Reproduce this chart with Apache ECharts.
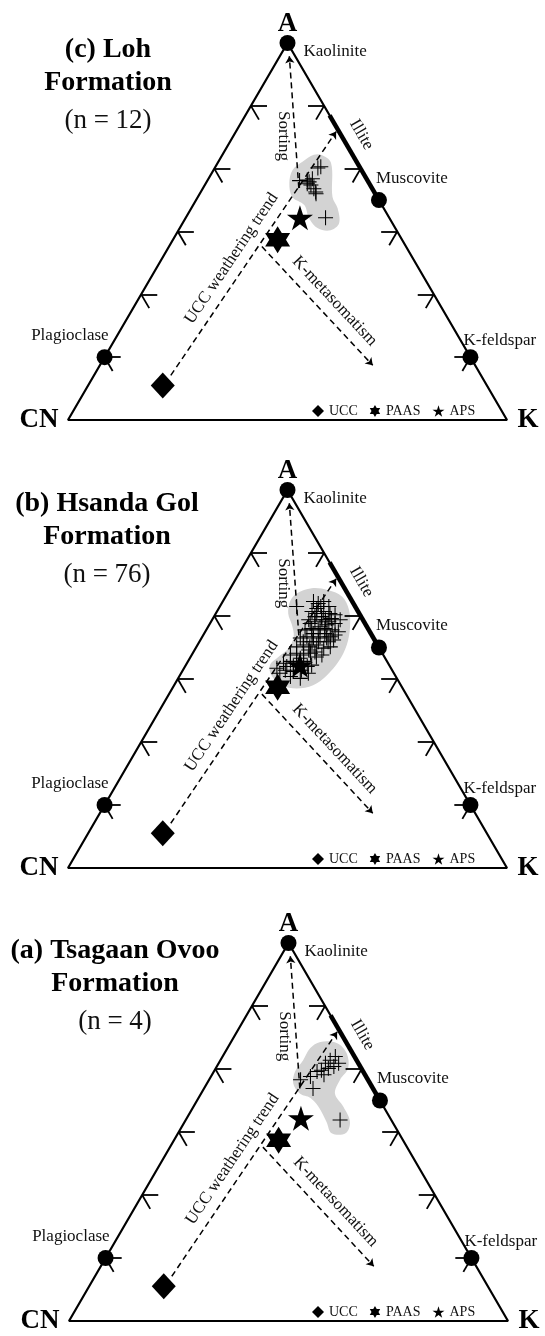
<!DOCTYPE html>
<html>
<head>
<meta charset="utf-8">
<script src="https://cdn.jsdelivr.net/npm/echarts@6/dist/echarts.min.js"></script>
<style>
html, body { margin: 0; padding: 0; background: #fff; }
#chart { width: 545px; height: 1336px; }
</style>
</head>
<body>
<div id="chart"></div>
<script>
// A-CN-K ternary, only the part with A >= 40 is drawn.
// every point is [A, K], CN = 100 - A - K
var titles = ['(c) Loh\nFormation', '(b) Hsanda Gol\nFormation', '(a) Tsagaan Ovoo\nFormation'];
var counts = ['(n = 12)', '(n = 76)', '(n = 4)'];

var ucc = [[45.5, 10.2]];
var paas = [[68.7, 14.3]];
var aps = [[72.2, 15.6]];

var minerals = ['Kaolinite', 'Muscovite', 'Plagioclase', 'K-feldspar'];
var mineralPts = [[100, 0], [75, 25], [50, 0], [50, 50]];
var illite = [[88.5, 11.5], [75, 25]];
var tickA = [50, 60, 70, 80, 90];

var corners = ['A', 'CN', 'K'];
var cornerPts = [[100, 0], [40, 0], [40, 60]];

var trendNames = ['Sorting', 'Illite', 'UCC weathering trend', 'K-metasomatism'];
var trendLabelPts = [[85.2, 6.8], [85.4, 17.4], [65.7, 9.5], [58.9, 27.0]];
var sortingArrow = [[76.9, 13.1], [97.9, 1.3]];
var weatheringArrow = [[47.1, 10.5], [85.9, 13.7]];
var metasomArrow = [[67.6, 12.7], [48.7, 37.3]];

var lohPts = [[80.1, 14.1], [78.2, 13.6], [77.4, 14.5], [76.3, 15.7], [72.2, 19.1], [78.1, 12.6],
  [77.9, 14.0], [76.8, 15.2], [80.3, 14.4], [77.6, 13.9], [76.0, 15.9], [78.4, 14.2]];
var lohCloud = [[82.2, 13.5], [80.9, 15.5], [75.5, 18.4], [73.7, 20.0], [71.3, 21.4], [70.2, 20.8], [70.5, 18.9],
  [72.1, 16.9], [74.2, 15.2], [75.5, 12.9], [77.7, 11.4], [79.8, 10.8], [81.1, 11.5], [82.2, 12.5]];

var hsandaPts = [
  [82.3, 12.4], [82.0, 13.2], [82.3, 13.8], [81.5, 13.8], [81.5, 14.9],
  [80.7, 13.0], [80.4, 13.8], [80.7, 14.6], [80.4, 15.6], [80.2, 16.4],
  [79.4, 13.2], [79.1, 14.2], [79.4, 15.0], [79.1, 16.1], [78.8, 17.1], [79.4, 17.5],
  [77.8, 13.5], [78.0, 14.3], [77.8, 15.3], [78.0, 16.1], [77.8, 17.2], [77.5, 18.2],
  [76.5, 13.5], [76.7, 14.3], [76.5, 15.3], [76.7, 16.1], [76.5, 17.1], [76.2, 18.2],
  [75.1, 13.7], [75.4, 14.5], [75.1, 15.5], [75.4, 16.3], [74.9, 17.5], [75.1, 18.3],
  [73.8, 13.5], [74.1, 14.2], [73.8, 15.3], [74.1, 16.1], [73.5, 17.2],
  [72.5, 13.2], [72.8, 14.0], [72.5, 15.0], [72.8, 15.8], [72.2, 17.2],
  [71.7, 12.7], [71.4, 14.0], [71.2, 15.2], [71.4, 16.2], [70.9, 17.4],
  [70.1, 16.7], [70.4, 15.2], [81.5, 10.5],
  [81.2, 13.4], [79.9, 14.7], [78.6, 16.1], [77.2, 14.9], [75.9, 16.3], [74.6, 15.6],
  [73.3, 15.1], [72.0, 14.8], [78.3, 15.3], [77.2, 16.5], [79.9, 13.8], [79.6, 16.2],
  [78.8, 13.7], [75.9, 14.2], [75.9, 17.6], [72.0, 13.9], [72.0, 16.7], [70.9, 13.5],
  [77.0, 18.0], [73.8, 17.8], [74.3, 16.6], [75.9, 15.4], [79.4, 15.5], [76.7, 17.5]];
var hsandaCloud = [[83.6, 9.5], [84.4, 11.1], [84.1, 13.5], [83.1, 15.9], [81.0, 17.9], [78.3, 19.4],
  [75.4, 20.4], [72.8, 20.6], [70.6, 20.1], [69.0, 19.0], [68.5, 17.0], [69.0, 14.7], [70.6, 12.5],
  [72.2, 11.5], [73.5, 12.0], [74.9, 12.7], [76.7, 12.5], [78.6, 11.3], [80.4, 9.9], [82.3, 9.2]];

var tsagaanPts = [[82.0, 15.4], [81.4, 15.0], [80.9, 16.4], [80.9, 14.6], [80.4, 16.0], [80.1, 15.4],
  [79.8, 14.6], [79.6, 14.1], [79.1, 15.3], [78.8, 13.6], [78.3, 12.5], [76.9, 14.9], [71.9, 21.1]];
var tsagaanCloud = [[84.3, 12.2], [84.1, 14.6], [82.5, 16.7], [80.1, 18.1], [78.3, 17.9], [76.1, 18.3],
  [74.0, 20.5], [71.6, 22.6], [69.8, 22.9], [69.8, 21.0], [71.6, 19.4], [74.0, 17.1], [75.4, 15.3],
  [76.1, 13.5], [77.7, 11.8], [79.6, 11.1], [81.4, 11.3], [83.3, 11.3]];

var panelPts = [lohPts, hsandaPts, tsagaanPts];
var panelClouds = [lohCloud, hsandaCloud, tsagaanCloud];

var serif = "'Liberation Serif', 'Times New Roman', serif";
var crossIcon = 'path://M9.3,0h1.4v20h-1.4z M0,9.3h20v1.4h-20z';
var hexIcon = 'path://M0,-10L2.887,-5L8.66,-5L5.774,0L8.66,5L2.887,5L0,10L-2.887,5L-8.66,5L-5.774,0L-8.66,-5L-2.887,-5Z';
var starIcon = 'path://M0,-10L2.245,-3.09L9.511,-3.09L3.633,1.18L5.878,8.09L0,3.82L-5.878,8.09L-3.633,1.18L-9.511,-3.09L-2.245,-3.09Z';

// [A, K] -> [x, A] on an axis pair where x runs 0..1 along the base
function tern(p) {
  return [p[1] / 60 + (p[0] - 40) / 120, p[0]];
}

function tickSegments() {
  var d = 2.2, segs = [];
  tickA.forEach(function (a) {
    segs.push({ coords: [tern([a, 0]), tern([a, d])] });
    segs.push({ coords: [tern([a, 0]), tern([a - d, d])] });
    segs.push({ coords: [tern([a, 100 - a]), tern([a, 100 - a - d])] });
    segs.push({ coords: [tern([a, 100 - a]), tern([a - d, 100 - a])] });
  });
  return segs;
}

var grids = [
  { left: 68, top: 43, width: 439, height: 377 },
  { left: 68, top: 490, width: 439, height: 378 },
  { left: 69, top: 943, width: 439, height: 378 }
];
var titleTops = [33, 487, 934];
var titleCenters = [108, 107, 115];
var legendTops = [404, 852, 1305];

var mineralLabel = [
  { position: 'right', distance: 8, offset: [0, 9] },
  { position: 'top', distance: 5, align: 'left', offset: [-3, 0] },
  { position: 'top', distance: 5, align: 'right', offset: [4, 0] },
  { position: 'top', distance: 0, align: 'left', offset: [-7, 0] }
];
var cornerLabel = [
  { position: 'top', distance: 5 },
  { position: 'left', distance: 9 },
  { position: 'right', distance: 10 }
];
var trendRotate = [-90, -60, 56, -47];
var ink = '#111';

var series = [];
[0, 1, 2].forEach(function (i) {
  var ax = { xAxisIndex: i, yAxisIndex: i };
  function s(o) { return Object.assign({}, ax, { clip: false, silent: true, animation: false }, o); }

  var cloud = panelClouds[i];
  series.push(s({
    type: 'custom', z: 1, data: [[0.5, 70]],
    renderItem: function (params, api) {
      return {
        type: 'polygon',
        shape: { points: cloud.map(function (p) { return api.coord(tern(p)); }), smooth: 0.35 },
        style: { fill: '#d3d3d3' }
      };
    }
  }));

  series.push(s({
    type: 'lines', coordinateSystem: 'cartesian2d', z: 2,
    symbol: ['none', 'arrow'], symbolSize: 7,
    lineStyle: { color: '#000', width: 1.5, type: [6, 4], opacity: 1 },
    data: [sortingArrow, weatheringArrow, metasomArrow].map(function (a) {
      return { coords: a.map(tern) };
    })
  }));

  series.push(s({
    type: 'line', z: 3, showSymbol: false,
    lineStyle: { color: '#000', width: 2.2 },
    data: [cornerPts[0], cornerPts[1], cornerPts[2], cornerPts[0]].map(tern)
  }));

  series.push(s({
    type: 'lines', coordinateSystem: 'cartesian2d', z: 3,
    lineStyle: { color: '#000', width: 1.8, opacity: 1 },
    data: tickSegments()
  }));

  series.push(s({
    type: 'lines', coordinateSystem: 'cartesian2d', z: 3,
    lineStyle: { color: '#000', width: 4.5, opacity: 1 },
    data: [{ coords: illite.map(tern) }]
  }));

  series.push(s({
    type: 'scatter', z: 4, symbol: crossIcon, symbolSize: 15,
    itemStyle: { color: '#000', opacity: 1 },
    data: panelPts[i].map(tern)
  }));

  series.push(s({
    type: 'scatter', z: 5, symbol: 'circle', symbolSize: 16,
    itemStyle: { color: '#000', opacity: 1 },
    data: mineralPts.map(function (p, k) {
      return {
        value: tern(p),
        label: Object.assign({
          show: true, formatter: minerals[k], color: ink,
          fontFamily: serif, fontSize: 17
        }, mineralLabel[k])
      };
    })
  }));

  series.push(s({
    name: 'UCC', type: 'scatter', z: 5, symbol: 'diamond', symbolSize: [24, 26],
    itemStyle: { color: '#000', opacity: 1 }, data: ucc.map(tern)
  }));
  series.push(s({
    name: 'PAAS', type: 'scatter', z: 5, symbol: hexIcon, symbolSize: [25, 27],
    itemStyle: { color: '#000', opacity: 1 }, data: paas.map(tern)
  }));
  series.push(s({
    name: 'APS', type: 'scatter', z: 5, symbol: starIcon, symbolSize: [26, 25],
    itemStyle: { color: '#000', opacity: 1 }, data: aps.map(tern)
  }));

  series.push(s({
    type: 'scatter', z: 6, symbolSize: 1, itemStyle: { color: 'transparent', opacity: 1 },
    data: cornerPts.map(function (p, k) {
      return {
        value: tern(p),
        label: Object.assign({
          show: true, formatter: corners[k], color: '#000',
          fontFamily: serif, fontSize: 27, fontWeight: 'bold'
        }, cornerLabel[k])
      };
    })
  }));

  series.push(s({
    type: 'scatter', z: 6, symbolSize: 1, itemStyle: { color: 'transparent', opacity: 1 },
    data: trendLabelPts.map(function (p, k) {
      return {
        value: tern(p),
        label: {
          show: true, position: 'inside', formatter: trendNames[k], rotate: trendRotate[k],
          color: ink, fontFamily: serif, fontSize: 17
        }
      };
    })
  }));
});

var option = {
  animation: false,
  backgroundColor: '#fff',
  title: [0, 1, 2].map(function (i) {
    return {
      text: titles[i], subtext: counts[i],
      left: titleCenters[i], top: titleTops[i], textAlign: 'center',
      padding: 0, itemGap: 7,
      textStyle: { fontFamily: serif, fontSize: 28, fontWeight: 'bold', lineHeight: 33, color: '#000' },
      subtextStyle: { fontFamily: serif, fontSize: 27, lineHeight: 30, color: ink }
    };
  }),
  legend: [0, 1, 2].map(function (i) {
    return {
      left: 312, top: legendTops[i], padding: 0,
      itemWidth: 12, itemHeight: 12, itemGap: 12, selectedMode: false,
      textStyle: { fontFamily: serif, fontSize: 14, color: ink },
      data: [{ name: 'UCC', icon: 'diamond' }, { name: 'PAAS', icon: hexIcon }, { name: 'APS', icon: starIcon }]
    };
  }),
  grid: grids,
  xAxis: [0, 1, 2].map(function (i) {
    return { type: 'value', gridIndex: i, min: 0, max: 1, show: false };
  }),
  yAxis: [0, 1, 2].map(function (i) {
    return { type: 'value', gridIndex: i, min: 40, max: 100, show: false };
  }),
  series: series
};

var chart = echarts.init(document.getElementById('chart'));
chart.setOption(option);
</script>
</body>
</html>
